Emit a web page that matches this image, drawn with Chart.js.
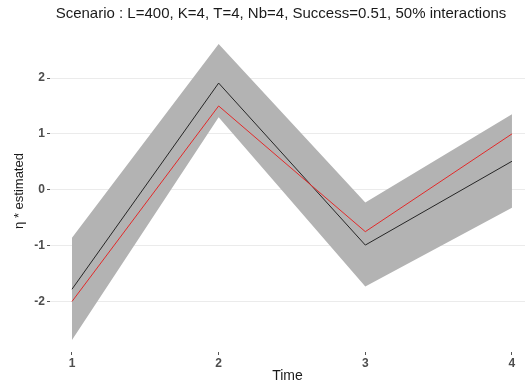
<!DOCTYPE html>
<html>
<head>
<meta charset="utf-8">
<script src="https://cdn.jsdelivr.net/npm/chart.js@4"></script>
<style>
  html, body { margin: 0; padding: 0; background: #fff; }
  #wrap { width: 525px; height: 385px; }
</style>
</head>
<body>
<div id="wrap"><canvas id="chart" width="525" height="385"></canvas></div>
<script>
"use strict";
// values
const times = [1, 2, 3, 4];
const etaTrue = [-1.78, 1.91, -0.99, 0.51];
const etaEstimated = [-2.0, 1.5, -0.75, 1.0];
const bandUpper = [-0.86, 2.61, -0.23, 1.35];
const bandLower = [-2.69, 1.3, -1.73, -0.32];
const yTicks = [-2, -1, 0, 1, 2];
const titleText = 'Scenario : L=400, K=4, T=4, Nb=4, Success=0.51, 50% interactions';

const FONT = '"Liberation Sans", Arial, sans-serif';
const toPoints = (vals) => times.map((t, i) => ({ x: t, y: vals[i] }));

const titlePlugin = {
    id: 'ggTitle',
    afterDraw(chart) {
        const ctx = chart.ctx;
        ctx.save();
        ctx.font = '15px ' + FONT;
        ctx.fillStyle = '#1a1a1a';
        ctx.textAlign = 'center';
        ctx.textBaseline = 'middle';
        ctx.fillText(titleText, 281, 14);
        ctx.restore();
    }
};

const ctx = document.getElementById('chart').getContext('2d');
const myChart = new Chart(ctx, {
    type: 'line',
    data: {
        datasets: [
            {
                label: 'estimated',
                data: toPoints(etaEstimated),
                borderColor: '#e32a2a',
                borderWidth: 1,
                pointRadius: 0,
                fill: false,
                tension: 0
            },
            {
                label: 'true',
                data: toPoints(etaTrue),
                borderColor: '#262626',
                borderWidth: 1,
                pointRadius: 0,
                fill: false,
                tension: 0
            },
            {
                label: 'upper',
                data: toPoints(bandUpper),
                borderWidth: 0,
                borderColor: 'rgba(0,0,0,0)',
                backgroundColor: '#b3b3b3',
                pointRadius: 0,
                fill: '+1',
                tension: 0
            },
            {
                label: 'lower',
                data: toPoints(bandLower),
                borderWidth: 0,
                borderColor: 'rgba(0,0,0,0)',
                pointRadius: 0,
                fill: false,
                tension: 0
            }
        ]
    },
    options: {
        responsive: false,
        animation: false,
        events: [],
        layout: { padding: { top: 30, right: 0, left: 0, bottom: 0 } },
        plugins: {
            legend: { display: false },
            tooltip: { enabled: false },
            title: { display: false }
        },
        scales: {
            x: {
                type: 'linear',
                min: 0.85,
                max: 4.089,
                afterBuildTicks: (s) => { s.ticks = times.map(v => ({ value: v })); },
                afterFit: (s) => { s.height = 33; },
                border: { display: false },
                grid: { drawOnChartArea: false, drawTicks: true, tickLength: 3, tickColor: '#555', lineWidth: 1 },
                ticks: {
                    color: '#4d4d4d',
                    font: { family: FONT, size: 12, weight: 'bold' },
                    padding: 1,
                    maxRotation: 0
                },
                title: {
                    display: true,
                    text: 'Time',
                    color: '#1a1a1a',
                    font: { family: FONT, size: 14 },
                    padding: { top: 0, bottom: 0 }
                }
            },
            y: {
                min: -2.904,
                max: 2.86,
                afterBuildTicks: (s) => { s.ticks = yTicks.map(v => ({ value: v })); },
                afterFit: (s) => { s.width = 50; },
                border: { display: false },
                grid: { color: '#ebebeb', lineWidth: 1, drawTicks: true, tickLength: 3, tickColor: '#555' },
                ticks: {
                    color: '#4d4d4d',
                    font: { family: FONT, size: 12, weight: 'bold' },
                    padding: 2
                },
                title: {
                    display: true,
                    text: 'η * estimated',
                    color: '#1a1a1a',
                    font: { family: FONT, size: 13 },
                    padding: { top: 12, bottom: 0 }
                }
            }
        }
    },
    plugins: [titlePlugin]
});
</script>
</body>
</html>
